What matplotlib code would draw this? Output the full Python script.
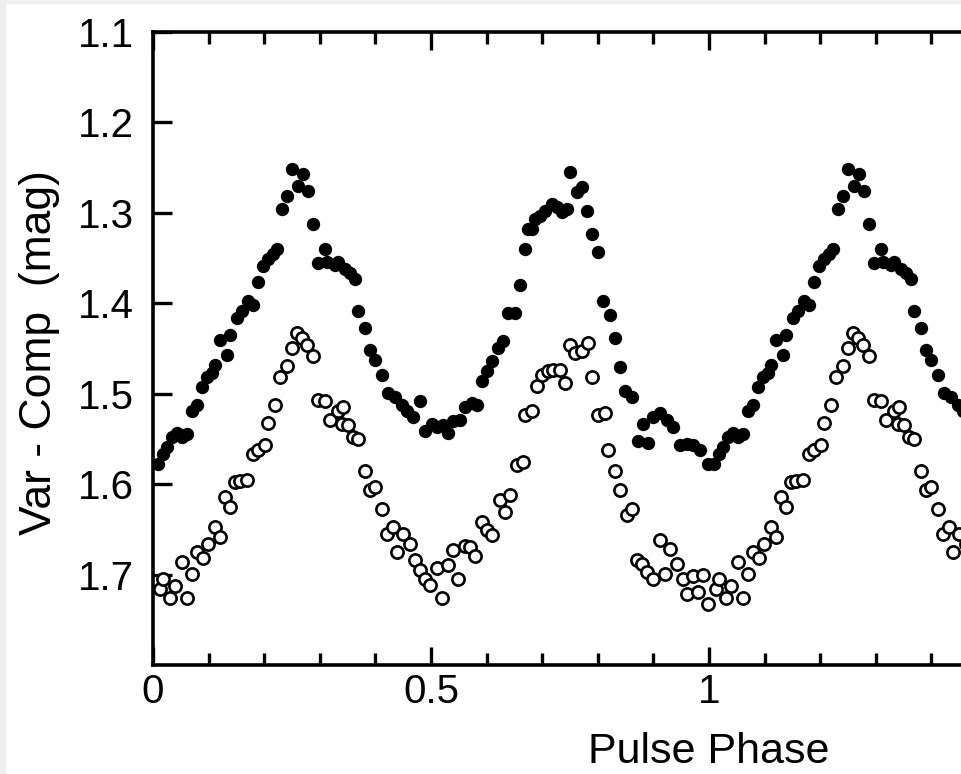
import matplotlib
matplotlib.use("Agg")
import matplotlib.pyplot as plt
from matplotlib.patches import Rectangle
from matplotlib.ticker import MultipleLocator
import numpy as np

# one pulse cycle; the plot repeats it with phase + 1
phase_filled = [0.009, 0.018, 0.025, 0.034, 0.043, 0.052, 0.061, 0.070, 0.079, 0.088,
                0.097, 0.106, 0.112, 0.120, 0.133, 0.138, 0.151, 0.160, 0.171, 0.180,
                0.189, 0.198, 0.207, 0.216, 0.223, 0.232, 0.241, 0.250, 0.261, 0.270,
                0.279, 0.288, 0.297, 0.309, 0.313, 0.327, 0.333, 0.345, 0.354, 0.363,
                0.369, 0.381, 0.390, 0.399, 0.412, 0.423, 0.435, 0.448, 0.457, 0.468,
                0.480, 0.489, 0.502, 0.511, 0.522, 0.531, 0.540, 0.552, 0.561, 0.574,
                0.583, 0.592, 0.601, 0.610, 0.621, 0.629, 0.638, 0.651, 0.660, 0.669,
                0.674, 0.682, 0.687, 0.696, 0.705, 0.718, 0.727, 0.736, 0.745, 0.750,
                0.763, 0.772, 0.781, 0.790, 0.800, 0.809, 0.822, 0.831, 0.840, 0.849,
                0.861, 0.872, 0.881, 0.890, 0.899, 0.912, 0.924, 0.935, 0.948, 0.960,
                0.971, 0.984, 0.998]
mag_filled = [1.578, 1.567, 1.559, 1.548, 1.543, 1.548, 1.545, 1.519, 1.513, 1.493,
              1.482, 1.477, 1.468, 1.441, 1.457, 1.435, 1.416, 1.409, 1.398, 1.402,
              1.376, 1.359, 1.351, 1.345, 1.340, 1.296, 1.281, 1.252, 1.270, 1.257,
              1.276, 1.312, 1.356, 1.340, 1.354, 1.358, 1.354, 1.362, 1.367, 1.373,
              1.409, 1.427, 1.452, 1.463, 1.479, 1.499, 1.504, 1.513, 1.519, 1.526,
              1.508, 1.541, 1.534, 1.537, 1.535, 1.543, 1.530, 1.529, 1.515, 1.510,
              1.513, 1.486, 1.475, 1.464, 1.449, 1.442, 1.411, 1.411, 1.380, 1.340,
              1.318, 1.318, 1.307, 1.303, 1.298, 1.290, 1.293, 1.299, 1.296, 1.255,
              1.277, 1.271, 1.298, 1.323, 1.343, 1.398, 1.413, 1.438, 1.471, 1.497,
              1.504, 1.552, 1.534, 1.554, 1.526, 1.521, 1.529, 1.537, 1.557, 1.556,
              1.557, 1.562, 1.578]

phase_open = [0.013, 0.018, 0.031, 0.040, 0.052, 0.061, 0.070, 0.079, 0.090, 0.099,
              0.112, 0.120, 0.129, 0.138, 0.147, 0.156, 0.169, 0.180, 0.189, 0.201,
              0.207, 0.219, 0.228, 0.241, 0.250, 0.259, 0.268, 0.277, 0.288, 0.297,
              0.309, 0.318, 0.333, 0.340, 0.342, 0.351, 0.360, 0.369, 0.381, 0.390,
              0.399, 0.412, 0.421, 0.432, 0.439, 0.450, 0.462, 0.471, 0.480, 0.489,
              0.498, 0.511, 0.520, 0.531, 0.540, 0.549, 0.561, 0.570, 0.579, 0.592,
              0.601, 0.610, 0.624, 0.633, 0.642, 0.655, 0.665, 0.669, 0.682, 0.691,
              0.700, 0.710, 0.719, 0.732, 0.741, 0.750, 0.759, 0.772, 0.782, 0.790,
              0.800, 0.813, 0.818, 0.831, 0.840, 0.853, 0.861, 0.871, 0.879, 0.888,
              0.899, 0.912, 0.921, 0.930, 0.942, 0.953, 0.960, 0.971, 0.980, 0.989,
              0.998]
mag_open = [1.716, 1.705, 1.726, 1.713, 1.686, 1.726, 1.699, 1.675, 1.682, 1.666,
            1.647, 1.658, 1.614, 1.625, 1.598, 1.596, 1.595, 1.567, 1.562, 1.557,
            1.532, 1.512, 1.482, 1.469, 1.449, 1.433, 1.438, 1.446, 1.458, 1.507,
            1.508, 1.529, 1.519, 1.534, 1.515, 1.535, 1.548, 1.550, 1.585, 1.607,
            1.603, 1.627, 1.655, 1.647, 1.675, 1.655, 1.666, 1.684, 1.695, 1.705,
            1.711, 1.693, 1.726, 1.689, 1.673, 1.705, 1.668, 1.669, 1.680, 1.642,
            1.651, 1.656, 1.618, 1.631, 1.612, 1.579, 1.576, 1.523, 1.519, 1.491,
            1.479, 1.475, 1.474, 1.474, 1.488, 1.446, 1.455, 1.453, 1.444, 1.482,
            1.523, 1.521, 1.562, 1.585, 1.607, 1.634, 1.627, 1.684, 1.688, 1.697,
            1.705, 1.662, 1.699, 1.672, 1.688, 1.705, 1.721, 1.702, 1.719, 1.700,
            1.733]

x_ticks = [0, 0.5, 1, 1.5, 2]
x_ticklabels = ["0", "0.5", "1", "1.5", "2"]
y_ticks = [1.1, 1.2, 1.3, 1.4, 1.5, 1.6, 1.7]
y_ticklabels = ["1.1", "1.2", "1.3", "1.4", "1.5", "1.6", "1.7"]

plt.rcParams['font.family'] = ['Liberation Sans', 'DejaVu Sans']

W, H = 961, 774
fig = plt.figure(figsize=(W / 100, H / 100), dpi=100)
fig.patch.set_facecolor('white')
# thin grey frame on the left and top edge of the scan
fig.patches.append(Rectangle((0, 0), 5 / W, 1, transform=fig.transFigure,
                             color='#eeeeee', zorder=-1))
fig.patches.append(Rectangle((0, 1 - 3 / H), 1, 3 / H, transform=fig.transFigure,
                             color='#eeeeee', zorder=-1))

# axes run 0..2 in phase but the picture is cut off on the right
left, right, top, bottom = 153, 153 + 2 * 556, 32, 665
ax = fig.add_axes([left / W, 1 - bottom / H, (right - left) / W, (bottom - top) / H])

pf = np.array(phase_filled)
mf = np.array(mag_filled)
po = np.array(phase_open)
mo = np.array(mag_open)

for shift in (0, 1):
    ax.plot(pf + shift, mf, 'o', color='black', markersize=9.6,
            markeredgewidth=0, clip_on=False)
    ax.plot(po + shift, mo, 'o', markerfacecolor='white', markeredgecolor='black',
            markersize=8.8, markeredgewidth=1.9, clip_on=False)

ax.set_xlim(0, 2)
ax.set_ylim(1.8, 1.1)

ax.set_xticks(x_ticks)
ax.set_xticklabels(x_ticklabels)
ax.xaxis.set_minor_locator(MultipleLocator(0.1))
ax.set_yticks(y_ticks)
ax.set_yticklabels(y_ticklabels)

for s in ax.spines.values():
    s.set_linewidth(2.6)

ax.tick_params(axis='x', which='major', direction='in', length=13, width=2.4,
               top=True, labelsize=29, pad=6)
ax.tick_params(axis='x', which='minor', direction='in', length=8.5, width=2.4, top=True)
ax.tick_params(axis='y', which='major', direction='in', length=14, width=2.4,
               right=True, labelsize=29, pad=14)

ax.set_xlabel("Pulse Phase", fontsize=31)
ax.xaxis.set_label_coords((709 - left) / (right - left), (bottom - 732) / (bottom - top))
ax.set_ylabel("Var - Comp  (mag)", fontsize=32)
ax.yaxis.set_label_coords((60 - left) / (right - left), (bottom - 353) / (bottom - top))

fig.savefig("out.png", dpi=100)
